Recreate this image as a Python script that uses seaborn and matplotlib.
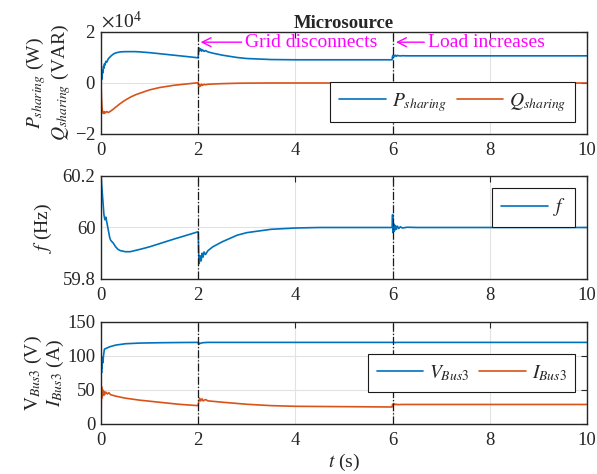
import matplotlib
matplotlib.use("Agg")
import matplotlib.pyplot as plt
import matplotlib.ticker as mticker
import pandas as pd
import seaborn as sns

# ---- data ----
t_pq = [0, 0.01, 0.02, 0.03, 0.04, 0.05, 0.06, 0.07, 0.08, 0.1, 0.12, 0.15, 0.2, 0.25,
        0.3, 0.4, 0.5, 0.6, 0.7, 0.8, 1.0, 1.2, 1.5, 1.8, 1.99, 2.0, 2.01, 2.03, 2.05,
        2.07, 2.09, 2.12, 2.15, 2.2, 2.3, 2.5, 2.8, 3.0, 3.5, 4.0, 5.0, 5.99, 6.0, 6.02,
        6.04, 6.06, 6.08, 6.1, 6.15, 6.2, 6.3, 7.0, 8.0, 10.0]
p_sharing = [0, 3000, 1500, 5000, 4000, 6500, 5800, 7500, 7000, 8500, 8200, 9500, 10500,
             11300, 11800, 12200, 12300, 12300, 12300, 12200, 11900, 11500, 10900, 10300,
             9900, 9900, 13800, 12600, 13400, 12500, 13000, 12400, 12700, 12200, 11700,
             10900, 10000, 9600, 9200, 9100, 9100, 9100, 10600, 11000, 10400, 10900, 10500,
             10800, 10600, 10700, 10650, 10650, 10650, 10650]
q_sharing = [0, -6000, -9500, -11000, -11800, -11300, -12000, -11200, -11800, -11500,
             -11200, -11600, -11000, -10300, -9500, -8000, -6700, -5600, -4700, -4000,
             -2700, -1800, -900, -300, 100, 100, -1600, -600, -1200, -500, -900, -500,
             -700, -500, -400, -250, -100, -50, 0, 0, 0, 0, -900, -200, -600, -200, -400,
             -150, -200, -100, -50, 0, 0, 0]

t_f = [0, 0.02, 0.04, 0.06, 0.08, 0.1, 0.12, 0.15, 0.18, 0.2, 0.25, 0.3, 0.35, 0.4, 0.5,
       0.6, 0.8, 1.0, 1.2, 1.5, 1.8, 1.99, 2.0, 2.01, 2.02, 2.04, 2.06, 2.08, 2.1, 2.12,
       2.15, 2.2, 2.3, 2.5, 2.8, 3.0, 3.5, 4.0, 4.5, 5.0, 5.99, 6.0, 6.01, 6.02, 6.03,
       6.04, 6.05, 6.06, 6.08, 6.1, 6.13, 6.16, 6.2, 6.3, 6.5, 7.0, 10.0]
f_hz = [60.2, 60.15, 60.1, 60.05, 60.03, 60.04, 60.02, 59.99, 59.96, 59.95, 59.94, 59.925,
        59.915, 59.91, 59.906, 59.906, 59.915, 59.925, 59.937, 59.955, 59.972, 59.983,
        59.983, 59.90, 59.86, 59.89, 59.87, 59.90, 59.885, 59.905, 59.895, 59.91, 59.925,
        59.945, 59.97, 59.98, 59.993, 59.998, 60.0, 60.0, 60.0, 60.05, 59.98, 60.015,
        59.985, 60.01, 59.99, 60.007, 59.993, 60.005, 59.996, 60.003, 59.998, 60.001,
        60.0, 60.0, 60.0]

t_vi = [0, 0.005, 0.01, 0.015, 0.02, 0.03, 0.04, 0.05, 0.06, 0.07, 0.1, 0.13, 0.16, 0.2,
        0.3, 0.5, 0.8, 1.2, 1.6, 1.99, 2.0, 2.01, 2.03, 2.05, 2.08, 2.1, 2.15, 2.2, 2.5,
        3.0, 3.5, 4.0, 5.0, 5.99, 6.0, 6.02, 6.04, 6.06, 6.08, 6.1, 6.2, 7.0, 10.0]
v_bus3 = [40, 97, 75, 95, 82, 98, 90, 100, 105, 110, 111, 112, 113, 114, 116, 118, 119,
          119.5, 119.8, 120, 120, 117, 119, 118.5, 119.5, 119.5, 119.8, 120, 120, 120,
          120, 120, 120, 120, 120, 119.5, 120, 119.7, 120, 120, 120, 120, 120]
i_bus3 = [0, 30, 55, 38, 52, 44, 50, 42, 48, 43, 47, 44, 46, 43, 41, 38, 35, 32, 29, 27,
          27, 33, 38, 34, 37, 34, 36, 34, 32, 29, 27, 26, 25.5, 25, 29, 28, 29.5, 28.5,
          29, 28.5, 28.7, 28.7, 28.7]

event_times = [2, 6]
xticks = [0, 2, 4, 6, 8, 10]

blue = "#0072BD"
orange = "#D95319"
magenta = "#FF00FF"

sns.set_theme(style="whitegrid")
plt.rcParams["font.family"] = ["Liberation Serif", "DejaVu Serif"]
plt.rcParams["mathtext.fontset"] = "stix"
plt.rcParams["font.size"] = 13.5
plt.rcParams["axes.edgecolor"] = "#262626"
plt.rcParams["axes.linewidth"] = 1.0
plt.rcParams["grid.color"] = "#e2e2e2"
plt.rcParams["grid.linewidth"] = 0.8

fig = plt.figure(figsize=(5.97, 4.74), dpi=100)
ax1 = fig.add_axes([0.1692, 0.7173, 0.814, 0.2152])
ax2 = fig.add_axes([0.1692, 0.4114, 0.814, 0.2173])
ax3 = fig.add_axes([0.1692, 0.1055, 0.814, 0.2152])

df_pq = pd.DataFrame({"t": t_pq, "P": p_sharing, "Q": q_sharing})
df_f = pd.DataFrame({"t": t_f, "f": f_hz})
df_vi = pd.DataFrame({"t": t_vi, "V": v_bus3, "I": i_bus3})

sns.lineplot(data=df_pq, x="t", y="P", ax=ax1, color=blue, lw=1.2, estimator=None, sort=False,
             label="$P_{sharing}$")
sns.lineplot(data=df_pq, x="t", y="Q", ax=ax1, color=orange, lw=1.2, estimator=None, sort=False,
             label="$Q_{sharing}$")
sns.lineplot(data=df_f, x="t", y="f", ax=ax2, color=blue, lw=1.2, estimator=None, sort=False,
             label="$f$")
sns.lineplot(data=df_vi, x="t", y="V", ax=ax3, color=blue, lw=1.2, estimator=None, sort=False,
             label="$V_{Bus3}$")
sns.lineplot(data=df_vi, x="t", y="I", ax=ax3, color=orange, lw=1.2, estimator=None, sort=False,
             label="$I_{Bus3}$")

for ax in (ax1, ax2, ax3):
    ax.set_xlim(0, 10)
    ax.set_xticks(xticks)
    ax.xaxis.set_major_formatter(mticker.FormatStrFormatter("%g"))
    ax.tick_params(direction="in", length=4, width=0.8, top=True, right=True,
                   labelsize=13.5, colors="#262626")
    ax.tick_params(axis="x", pad=6)
    ax.tick_params(axis="y", pad=4)
    for t in event_times:
        ax.axvline(t, color="k", ls="-.", lw=0.9, zorder=3)
    ax.set_xlabel("")
    for s in ax.spines.values():
        s.set_color("#262626")
        s.set_linewidth(1.0)

ax1.set_ylim(-2e4, 2e4)
ax1.set_yticks([-2e4, 0, 2e4])
fmt = mticker.ScalarFormatter(useMathText=True)
fmt.set_powerlimits((0, 0))
ax1.yaxis.set_major_formatter(fmt)
ax1.yaxis.get_offset_text().set_fontsize(14)
ax1.set_ylabel("$P_{sharing}$ (W)\n$Q_{sharing}$ (VAR)", fontsize=14, linespacing=1.05,
               labelpad=1)
ax1.set_title("Microsource", fontsize=13.5, fontweight="bold", pad=3)

ax2.set_ylim(59.8, 60.2)
ax2.set_yticks([59.8, 60.0, 60.2])
ax2.yaxis.set_major_formatter(mticker.FormatStrFormatter("%g"))
ax2.set_ylabel("$f$ (Hz)", fontsize=14, labelpad=6)

ax3.set_ylim(0, 150)
ax3.set_yticks([0, 50, 100, 150])
ax3.set_ylabel("$\\mathrm{V}_{Bus3}$ (V)\n$I_{Bus3}$ (A)", fontsize=14, linespacing=1.05,
               labelpad=1)
ax3.set_xlabel("$t$ (s)", fontsize=14, labelpad=2)

leg_kw = dict(frameon=True, fancybox=False, framealpha=1, edgecolor="k", fontsize=14,
              handlelength=2.4, borderaxespad=0.6, columnspacing=0.5, handletextpad=0.3,
              borderpad=0.45)
l1 = ax1.legend(loc="lower right", ncol=2, **leg_kw)
l2 = ax2.legend(loc="upper right", **leg_kw)
l3 = ax3.legend(loc="center right", ncol=2, **leg_kw)
for lg in (l1, l2, l3):
    lg.get_frame().set_linewidth(0.8)

ax1.annotate("Grid disconnects", xy=(2.05, 1.6e4), xytext=(2.96, 1.6e4),
             color=magenta, fontsize=14, va="center", ha="left",
             arrowprops=dict(arrowstyle="->", color=magenta, lw=1.0, shrinkA=0, shrinkB=0,
                             mutation_scale=16))
ax1.annotate("Load increases", xy=(6.07, 1.6e4), xytext=(6.72, 1.6e4),
             color=magenta, fontsize=14, va="center", ha="left",
             arrowprops=dict(arrowstyle="->", color=magenta, lw=1.0, shrinkA=0, shrinkB=0,
                             mutation_scale=16))

fig.savefig("out.png", dpi=100)
